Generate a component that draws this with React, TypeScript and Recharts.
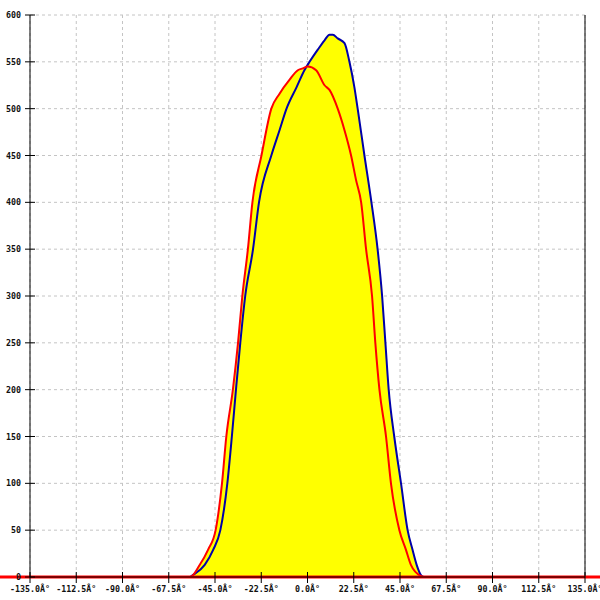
import React from "react";
import {
  ComposedChart,
  Area,
  Line,
  XAxis,
  YAxis,
  CartesianGrid,
  ReferenceLine,
} from "recharts";

// valores (ângulo em graus)
const blueAngles = [
  -135, -57.3, -55.8, -50.0, -45.9, -42.4, -39.0, -36.8, -34.8, -32.7, -30.3, -26.5, -23.6,
  -17.6, -13.6, -10.2, -5.3, -1.5, 1.0, 5.0, 8.3, 10.7, 12.3, 14.7, 18.0, 20.4, 22.8, 24.4,
  27.7, 31.1, 34.1, 36.3, 37.9, 39.5, 42.2, 45.5, 48.7, 51.1, 53.1, 55.2, 56.8, 135,
];
const blueValues = [
  0, 0, 2, 13, 29, 50, 100, 150, 200, 250, 300, 350, 400,
  450, 477, 500, 523, 541, 550, 563, 573, 579, 579, 575, 570, 550, 523, 500,
  450, 400, 350, 300, 250, 200, 150, 100, 50, 29, 13, 2, 0, 0,
];

const redAngles = [
  -135, -57.0, -52.4, -48.4, -44.7, -41.6, -39.5, -36.3, -33.8, -31.7, -29.0, -26.8, -22.4,
  -17.6, -13.6, -8.7, -4.7, -2.3, 0.1, 4.2, 8.3, 10.7, 14.7, 18.0, 21.2, 23.6, 26.1,
  28.5, 31.4, 33.0, 35.0, 38.2, 40.6, 44.7, 47.9, 50.3, 55.2, 56.8, 135,
];
const redValues = [
  0, 0, 13, 29, 50, 100, 150, 200, 250, 300, 350, 400, 450,
  500, 516, 531, 541, 543, 545, 541, 525, 520, 500, 477, 450, 424, 400,
  350, 300, 250, 200, 150, 100, 50, 29, 13, 1, 0, 0,
];

const xTicks = [-135, -112.5, -90, -67.5, -45, -22.5, 0, 22.5, 45, 67.5, 90, 112.5, 135];
const yTicks = [0, 50, 100, 150, 200, 250, 300, 350, 400, 450, 500, 550, 600];

const blueData = blueAngles.map((x, i) => ({ x, v: blueValues[i] }));
const redData = redAngles.map((x, i) => ({ x, v: redValues[i] }));

const FONT = "'DejaVu Sans Mono', monospace";

function XTick(props: any) {
  const { x, y, payload } = props;
  return (
    <g>
      <line x1={x} x2={x} y1={y - 5} y2={y + 6} stroke="#000" strokeWidth={1} />
      <text
        x={x}
        y={y + 15}
        textAnchor="middle"
        fontFamily={FONT}
        fontSize={8.3}
        fontWeight="bold"
        fill="#111"
      >
        {`${payload.value.toFixed(1)}Â°`}
      </text>
    </g>
  );
}

function YTick(props: any) {
  const { x, y, payload } = props;
  return (
    <g>
      <line x1={x - 5} x2={x + 5} y1={y} y2={y} stroke="#000" strokeWidth={1} />
      <text
        x={x - 9}
        y={y + 3}
        textAnchor="end"
        fontFamily={FONT}
        fontSize={8.3}
        fontWeight="bold"
        fill="#111"
      >
        {payload.value}
      </text>
    </g>
  );
}

// linha de base vermelha atravessando toda a largura
function RedBase(props: any) {
  const { y1 } = props;
  return <line x1={0} x2={600} y1={y1} y2={y1} stroke="#ff0000" strokeWidth={3} />;
}

export default function App() {
  return (
    <div style={{ position: "fixed", left: 0, top: 0, width: 600, height: 600, background: "#fff" }}>
      <ComposedChart width={600} height={600} margin={{ top: 15, right: 15, bottom: 0, left: 0 }}>
        <CartesianGrid stroke="#c4c4c4" strokeDasharray="3 3" />
        <XAxis
          dataKey="x"
          type="number"
          domain={[-135, 135]}
          ticks={xTicks}
          interval={0}
          height={23}
          tickSize={0}
          tickMargin={0}
          tickLine={false}
          axisLine={{ stroke: "#000" }}
          tick={<XTick />}
          allowDuplicatedCategory={false}
        />
        <YAxis
          type="number"
          domain={[0, 600]}
          ticks={yTicks}
          interval={0}
          width={30}
          tickSize={0}
          tickMargin={0}
          tickLine={false}
          axisLine={{ stroke: "#000" }}
          tick={<YTick />}
        />
        <Area
          data={blueData}
          dataKey="v"
          type="monotone"
          stroke="none"
          fill="#ffff00"
          fillOpacity={1}
          isAnimationActive={false}
        />
        <Area
          data={redData}
          dataKey="v"
          type="monotone"
          stroke="none"
          fill="#ffff00"
          fillOpacity={1}
          isAnimationActive={false}
        />
        <ReferenceLine x={135} stroke="#000" strokeWidth={1} />
        <Line
          data={blueData}
          dataKey="v"
          type="monotone"
          stroke="#0000aa"
          strokeWidth={2}
          dot={false}
          isAnimationActive={false}
        />
        <Line
          data={redData}
          dataKey="v"
          type="monotone"
          stroke="#ff0000"
          strokeWidth={2}
          dot={false}
          isAnimationActive={false}
        />
        <ReferenceLine y={0} shape={<RedBase />} />
      </ComposedChart>
    </div>
  );
}
